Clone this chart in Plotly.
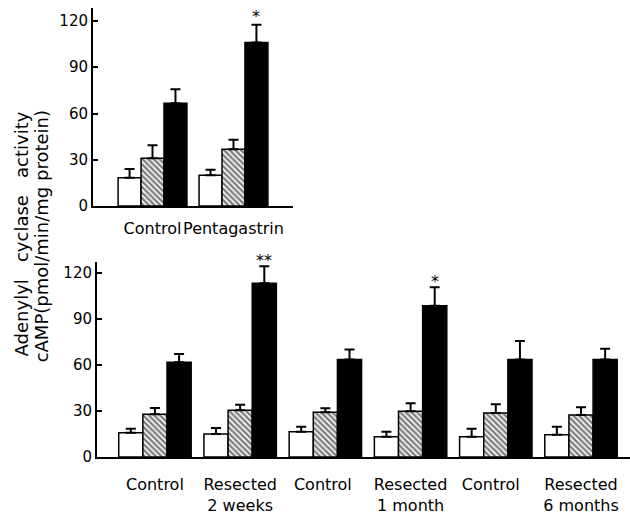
import plotly.graph_objects as go

# ---------------- data ----------------
series_names = ["Series A", "Series B", "Series C"]

top_categories = ["Control", "Pentagastrin"]
top_values = {
    "Series A": [18.4, 20.0],
    "Series B": [31.0, 36.8],
    "Series C": [66.7, 106.0],
}
top_errors = {
    "Series A": [5.6, 3.5],
    "Series B": [8.4, 6.2],
    "Series C": [9.0, 11.5],
}
top_marks = {"Pentagastrin": "*"}

bottom_categories = ["Control", "Resected<br>2 weeks", "Control ", "Resected<br>1 month",
                     "Control  ", "Resected<br>6 months"]
bottom_values = {
    "Series A": [15.9, 15.0, 16.5, 13.3, 13.3, 14.6],
    "Series B": [27.9, 30.5, 29.2, 29.8, 28.6, 27.3],
    "Series C": [61.6, 113.0, 63.5, 98.4, 63.5, 63.5],
}
bottom_errors = {
    "Series A": [2.5, 4.0, 3.2, 3.2, 5.1, 5.1],
    "Series B": [4.1, 3.5, 2.5, 5.2, 5.7, 5.1],
    "Series C": [5.4, 11.0, 6.5, 12.1, 12.0, 7.0],
}
bottom_marks = {"Resected<br>2 weeks": "**", "Resected<br>1 month": "*"}

y_ticks = [0, 30, 60, 90, 120]

# ---------------- styling ----------------
W, H = 630, 515
FONT = "DejaVu Sans"
styles = {
    "Series A": dict(color="white"),
    "Series B": dict(color="white", pattern=dict(shape="\\", fgcolor="black", bgcolor="white",
                                                  size=4, solidity=0.62, fillmode="overlay")),
    "Series C": dict(color="black"),
}

top_dom_x = [93 / W, 293 / W]
top_dom_y = [(H - 211) / H, (H - 8) / H]
bot_dom_x = [97 / W, 1.0]
bot_dom_y = [(H - 468) / H, (H - 268) / H]
top_range_x = [-0.735, 1.735]
bot_range_x = [-0.68, 5.575]
gap = 0.15

fig = go.Figure()

for s in series_names:
    st = styles[s]
    marker = dict(color=st["color"], line=dict(color="black", width=1.5))
    if "pattern" in st:
        marker["pattern"] = st["pattern"]
    fig.add_trace(go.Bar(
        x=top_categories, y=top_values[s], name=s, marker=marker,
        error_y=dict(type="data", symmetric=False, array=top_errors[s],
                     arrayminus=[0] * len(top_errors[s]), color="black", thickness=2, width=5),
        xaxis="x", yaxis="y", offsetgroup=s, showlegend=False,
    ))
    fig.add_trace(go.Bar(
        x=bottom_categories, y=bottom_values[s], name=s, marker=marker,
        error_y=dict(type="data", symmetric=False, array=bottom_errors[s],
                     arrayminus=[0] * len(bottom_errors[s]), color="black", thickness=2, width=5),
        xaxis="x2", yaxis="y2", offsetgroup=s, showlegend=False,
    ))


def bar_px(dom, rng, g):
    px_per_unit = (dom[1] - dom[0]) * W / (rng[1] - rng[0])
    return px_per_unit * (1 - g) / 3


annots = []
bw_top = bar_px(top_dom_x, top_range_x, gap)
for cat, txt in top_marks.items():
    i = top_categories.index(cat)
    annots.append(dict(x=cat, y=top_values["Series C"][i] + top_errors["Series C"][i],
                       xref="x", yref="y", text=txt, showarrow=False, yanchor="bottom",
                       xshift=bw_top, yshift=-3, font=dict(family=FONT, size=16, color="black")))
bw_bot = bar_px(bot_dom_x, bot_range_x, gap)
for cat, txt in bottom_marks.items():
    i = bottom_categories.index(cat)
    annots.append(dict(x=cat, y=bottom_values["Series C"][i] + bottom_errors["Series C"][i],
                       xref="x2", yref="y2", text=txt, showarrow=False, yanchor="bottom",
                       xshift=bw_bot, yshift=-6, font=dict(family=FONT, size=16, color="black")))

# y-axis title (two lines)
annots.append(dict(x=21 / W, y=(H - 240) / H, xref="paper", yref="paper", textangle=-90,
                   text="Adenylyl\u00a0\u00a0 cyclase\u00a0\u00a0 activity", showarrow=False,
                   xanchor="center", yanchor="middle", font=dict(family=FONT, size=18, color="black")))
annots.append(dict(x=41 / W, y=(H - 242) / H, xref="paper", yref="paper", textangle=-90,
                   text="cAMP(pmol/min/mg protein)", showarrow=False,
                   xanchor="center", yanchor="middle", font=dict(family=FONT, size=18, color="black")))

xa = dict(showline=True, linecolor="black", linewidth=2, ticks="", showgrid=False, zeroline=False,
          tickangle=0, tickfont=dict(family=FONT, size=16, color="black"))
ya = dict(showline=True, linecolor="black", linewidth=2, ticks="inside", ticklen=5, tickwidth=1.5,
          tickcolor="black", showgrid=False, zeroline=False, tickvals=y_ticks,
          tickfont=dict(family=FONT, size=15, color="black"))

fig.update_layout(
    width=W, height=H, margin=dict(l=0, r=0, t=0, b=0),
    paper_bgcolor="white", plot_bgcolor="white",
    barmode="group",
    xaxis=dict(xa, domain=top_dom_x, range=top_range_x, anchor="y", ticklabelstandoff=7),
    yaxis=dict(ya, domain=top_dom_y, range=[0, 128.5], anchor="x"),
    xaxis2=dict(xa, domain=bot_dom_x, range=bot_range_x, anchor="y2", ticklabelstandoff=12),
    yaxis2=dict(ya, domain=bot_dom_y, range=[0, 127], anchor="x2"),
    bargap=gap, bargroupgap=0,
    annotations=annots,
)
fig.write_html("out.html")
